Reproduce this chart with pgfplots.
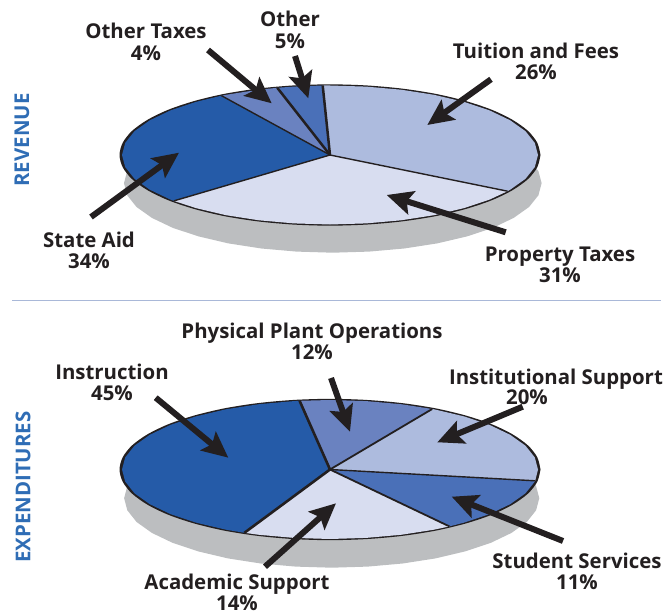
\documentclass[border=0pt]{standalone}
\usepackage{fontspec}
\setmainfont{Open Sans}
\usepackage{pgfplots}
\usepackage{pgfplotstable}
\pgfplotsset{compat=1.18}
\usetikzlibrary{arrows.meta}

\definecolor{ink}{HTML}{231F20}
\definecolor{shade}{HTML}{BCBEC0}
\definecolor{blueA}{HTML}{255BA8}
\definecolor{blueB}{HTML}{4A70B8}
\definecolor{blueC}{HTML}{6A82C0}
\definecolor{blueD}{HTML}{ADBBDE}
\definecolor{blueE}{HTML}{D8DDF0}
\definecolor{headblue}{HTML}{2F6DB5}
\definecolor{rule}{HTML}{A9B8D8}

% ellipse offsets from the pie centre, in pixels
\pgfplotstableread{
dx dy
208 0
204.8 12.1
195.5 23.8
180.1 34.75
159.3 44.7
133.7 53.2
104 60.2
71.1 65.3
36.1 68.4
0 69.5
-36.1 68.4
-71.1 65.3
-104 60.2
-133.7 53.2
-159.3 44.7
-180.1 34.75
-195.5 23.8
-204.8 12.1
-208 0
-204.8 -12.1
-195.5 -23.8
-180.1 -34.75
-159.3 -44.7
-133.7 -53.2
-104 -60.2
-71.1 -65.3
-36.1 -68.4
0 -69.5
36.1 -68.4
71.1 -65.3
104 -60.2
133.7 -53.2
159.3 -44.7
180.1 -34.75
195.5 -23.8
204.8 -12.1
208 0
}\ring

\newcommand{\lab}[3]{\node[anchor=base,text=ink,inner sep=0pt,font=\fontsize{20.4}{22}\selectfont\bfseries] at (axis cs:#1,#2) {#3};}

\begin{document}
\begin{tikzpicture}
\useasboundingbox (0,0) rectangle (667pt,615pt);
\begin{axis}[
    scale only axis, width=667pt, height=615pt,
    xmin=0, xmax=667, ymin=0, ymax=615, y dir=reverse,
    hide axis, clip=false,
    every axis plot/.append style={no marks, forget plot},
    sep/.style={draw=ink, line width=#1},
    pointer/.style={draw=ink, line width=6pt, -{Stealth[length=26pt,width=24pt,inset=5pt]}},
]
% shadows
\addplot[fill=shade, draw=none] table[x expr=\thisrow{dx}*1.004+332.8, y expr=\thisrow{dy}+183.2] {\ring};
\addplot[fill=shade, draw=none] table[x expr=\thisrow{dx}*0.998+331.7, y expr=\thisrow{dy}+498.2] {\ring};
% outlines, wider at the ends
\addplot[fill=ink, draw=none, smooth] table[x expr=\thisrow{dx}*1.012+330, y expr=\thisrow{dy}*1.017+155] {\ring};
\addplot[fill=ink, draw=none, smooth] table[x expr=\thisrow{dx}*1.012+330, y expr=\thisrow{dy}*1.017+469.5] {\ring};

% REVENUE slices
\addplot[fill=blueD, draw=none] coordinates {(330,155) (322.7,85.5) (330,85.5) (366.1,86.6) (401.1,89.7) (434,94.8) (463.7,101.8) (489.3,110.3) (510.1,120.25) (525.5,131.2) (534.8,142.9) (538,155) (534.8,167.1) (525.5,178.8) (510.1,189.75) (507.6,191.2)};
\addplot[fill=blueE, draw=none] coordinates {(330,155) (507.6,191.2) (489.3,199.7) (463.7,208.2) (434,215.2) (401.1,220.3) (366.1,223.4) (330,224.5) (293.9,223.4) (258.9,220.3) (226,215.2) (196.3,208.2) (173.8,200.9)};
\addplot[fill=blueA, draw=none] coordinates {(330,155) (173.8,200.9) (170.7,199.7) (149.9,189.75) (134.5,178.8) (125.2,167.1) (122,155) (125.2,142.9) (134.5,131.2) (149.9,120.25) (170.7,110.3) (196.3,101.8) (221.5,95.7)};
\addplot[fill=blueC, draw=none] coordinates {(330,155) (221.5,95.7) (226,94.8) (258.9,89.7) (277.3,87.8)};
\addplot[fill=blueB, draw=none] coordinates {(330,155) (277.3,87.8) (293.9,86.6) (322.7,85.5)};
\addplot[sep=1.4pt] coordinates {(507.6,191.2) (330,155) (173.8,200.9)};
\addplot[sep=1.4pt] coordinates {(221.5,95.7) (330,155)};
\addplot[sep=2.5pt] coordinates {(277.3,87.8) (330,155)};
\addplot[sep=2.5pt] coordinates {(322.7,85.5) (330,155)};

% EXPENDITURES slices
\addplot[fill=blueC, draw=none] coordinates {(330,469.5) (299.6,400.8) (330,400) (366.1,401.1) (401.1,404.2) (432.2,409)};
\addplot[fill=blueD, draw=none] coordinates {(330,469.5) (432.2,409) (434,409.3) (463.7,416.3) (489.3,424.8) (510.1,434.75) (525.5,445.7) (534.8,457.4) (538,469.5) (535.2,480.8)};
\addplot[fill=blueB, draw=none] coordinates {(330,469.5) (535.2,480.8) (534.8,481.6) (525.5,493.3) (510.1,504.25) (489.3,514.2) (463.7,522.7) (449.4,526.4)};
\addplot[fill=blueE, draw=none] coordinates {(330,469.5) (449.4,526.4) (434,529.7) (401.1,534.8) (366.1,537.9) (330,539) (293.9,537.9) (258.9,534.8) (244.4,532.8)};
\addplot[fill=blueA, draw=none] coordinates {(330,469.5) (244.4,532.8) (226,529.7) (196.3,522.7) (170.7,514.2) (149.9,504.25) (134.5,493.3) (125.2,481.6) (122,469.5) (125.2,457.4) (134.5,445.7) (149.9,434.75) (170.7,424.8) (196.3,416.3) (226,409.3) (258.9,404.2) (293.9,401.1) (299.6,400.8)};
\addplot[sep=2.6pt] coordinates {(299.6,400.8) (330,469.5) (244.4,532.8)};
\addplot[sep=1.8pt] coordinates {(432.2,409) (330,469.5) (449.4,526.4)};
\addplot[sep=1.4pt] coordinates {(535.2,480.8) (330,469.5)};

% pointers
\addplot[pointer] coordinates {(208,50) (271.7,103.3)};
\addplot[pointer] coordinates {(295,56) (308.3,98.3)};
\addplot[pointer] coordinates {(491,79.3) (427.3,125)};
\addplot[pointer] coordinates {(505.7,232.3) (386.7,195)};
\addplot[pointer] coordinates {(91,217) (179,152.7)};
\addplot[pointer] coordinates {(155.7,397.7) (228.3,457.7)};
\addplot[pointer] coordinates {(331,378) (350,431.7)};
\addplot[pointer] coordinates {(522.7,406.7) (437.3,442.3)};
\addplot[pointer] coordinates {(563,541) (451.7,496.7)};
\addplot[pointer] coordinates {(265,566.7) (336,503.3)};

% divider
\addplot[draw=rule, line width=1pt] coordinates {(12,300) (661,300)};

% labels
\lab{536}{59}{Tuition and Fees}
\lab{536}{80}{26\%}
\lab{146}{39}{Other Taxes}
\lab{146}{61}{4\%}
\lab{290}{27}{Other}
\lab{290}{49}{5\%}
\lab{89}{247}{State Aid}
\lab{89}{268}{34\%}
\lab{560}{261}{Property Taxes}
\lab{560}{282}{31\%}
\lab{312}{338}{Physical Plant Operations}
\lab{312}{359}{12\%}
\lab{112}{379}{Instruction}
\lab{112}{400}{45\%}
\lab{556}{384}{Institutional Support}
\lab{527}{404}{20\%}
\lab{577}{568}{Student Services}
\lab{577}{589}{11\%}
\lab{237}{589}{Academic Support}
\lab{237}{610}{14\%}
\node[rotate=90,text=headblue,font=\fontsize{20.4}{22}\selectfont\bfseries] at (axis cs:22,140) {REVENUE};
\node[rotate=90,text=headblue,font=\fontsize{20.4}{22}\selectfont\bfseries] at (axis cs:23,487) {EXPENDITURES};
\end{axis}
\end{tikzpicture}
\end{document}
